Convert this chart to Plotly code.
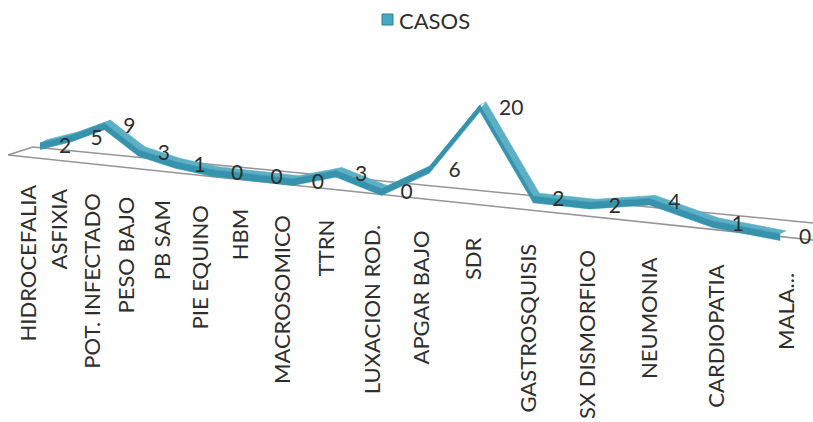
import plotly.graph_objects as go

# ---- data ----
categorias = [
    "HIDROCEFALIA", "ASFIXIA", "POT. INFECTADO", "PESO BAJO", "PB SAM",
    "PIE EQUINO", "HBM", "MACROSOMICO", "TTRN", "LUXACION ROD.",
    "APGAR BAJO", "SDR", "GASTROSQUISIS", "SX DISMORFICO", "NEUMONIA",
    "CARDIOPATIA", "MALA...",
]
casos = [2, 5, 9, 3, 1, 0, 0, 0, 3, 0, 6, 20, 2, 2, 4, 1, 0]
serie = "CASOS"

W, H = 813, 422
FONT = "Lato"
TEXT_COLOR = "#2e2e2e"
FRONT_COLOR = "#3793ad"
TOP_COLOR = "#5cb0c6"
FLOOR_COLOR = "#959595"


# ---- oblique perspective projection of the 3D line chart ----
def px(i):
    """screen x of category i on the ribbon's depth plane"""
    return (30.0 * i + 40.0) / (1.0 - 0.02083 * i)


def vscale(i):
    """pixels per unit at category i (nearer categories are larger)"""
    return 3.66 / (1.0 - 0.02083 * i)


def base_y(x):
    return 173.0 + 0.113 * (x - 215.0)


def py(i, v):
    return base_y(px(i)) - vscale(i) * v


def tick_x(i):
    """screen x of category labels on the floor's front edge"""
    return (30.07 * i + 27.0) / (1.0 - 0.0221 * i)


def tick_top(x):
    return 183.0 + 0.1164 * (x - 27.0)


n = len(casos)
X = [px(i) for i in range(n)]
Y = [py(i, v) for i, v in enumerate(casos)]

# ribbon: front face (vertical band) and top face (receding band)
HALF_UP, HALF_DN = 3.0, 3.6
DX, DY = 6.0, 3.0

top_x, top_y, front_x, front_y = [], [], [], []
for k in range(n - 1):
    a, b = k, k + 1
    ft = [(X[a], Y[a] - HALF_UP), (X[b], Y[b] - HALF_UP)]
    bt = [(X[b] + DX, Y[b] - HALF_UP - DY), (X[a] + DX, Y[a] - HALF_UP - DY)]
    fb = [(X[b], Y[b] + HALF_DN), (X[a], Y[a] + HALF_DN)]
    for (qx, qy) in ft + bt:
        top_x.append(qx)
        top_y.append(qy)
    top_x.append(None)
    top_y.append(None)
    for (qx, qy) in ft + fb:
        front_x.append(qx)
        front_y.append(qy)
    front_x.append(None)
    front_y.append(None)

fig = go.Figure()

fig.add_trace(go.Scatter(
    x=top_x, y=top_y, mode="lines", fill="toself",
    fillcolor=TOP_COLOR, line=dict(width=0.6, color=TOP_COLOR),
    hoverinfo="skip", showlegend=False,
))
fig.add_trace(go.Scatter(
    x=front_x, y=front_y, mode="lines", fill="toself",
    fillcolor=FRONT_COLOR, line=dict(width=0.6, color=FRONT_COLOR),
    hoverinfo="skip", showlegend=False,
))

# value labels
fig.add_trace(go.Scatter(
    x=[x + 19 for x in X], y=[y + 2 for y in Y],
    mode="text", text=[str(v) for v in casos],
    textposition="middle right",
    textfont=dict(family=FONT, size=21, color=TEXT_COLOR),
    hoverinfo="skip", showlegend=False,
))

# category labels, rotated
annotations = []
for i, cat in enumerate(categorias):
    tx = tick_x(i)
    annotations.append(dict(
        x=tx, y=tick_top(tx), xref="x", yref="y",
        text=cat, textangle=-90, showarrow=False,
        xanchor="center", yanchor="top",
        font=dict(family=FONT, size=22, color=TEXT_COLOR),
    ))

# legend entry
annotations.append(dict(
    x=397, y=20, xref="x", yref="y", text=serie, showarrow=False,
    xanchor="left", yanchor="middle",
    font=dict(family=FONT, size=22, color=TEXT_COLOR),
))

shapes = [
    # floor of the 3D plot area
    dict(type="line", xref="x", yref="y", x0=33, y0=147, x1=813, y1=223,
         line=dict(color=FLOOR_COLOR, width=1.6), layer="below"),
    dict(type="line", xref="x", yref="y", x0=8, y0=155, x1=813, y1=240,
         line=dict(color=FLOOR_COLOR, width=1.6), layer="below"),
    dict(type="line", xref="x", yref="y", x0=8, y0=155, x1=33, y1=147,
         line=dict(color=FLOOR_COLOR, width=1.6), layer="below"),
    # legend key
    dict(type="rect", xref="x", yref="y", x0=382, y0=14, x1=393, y1=25,
         fillcolor="#45a9c4", line=dict(color="#2d7f98", width=1)),
]

fig.update_layout(
    width=W, height=H,
    margin=dict(l=0, r=0, t=0, b=0),
    paper_bgcolor="white", plot_bgcolor="white",
    xaxis=dict(range=[0, W], visible=False, fixedrange=True),
    yaxis=dict(range=[H, 0], visible=False, fixedrange=True),
    annotations=annotations,
    shapes=shapes,
    showlegend=False,
)

fig.write_html("out.html")
